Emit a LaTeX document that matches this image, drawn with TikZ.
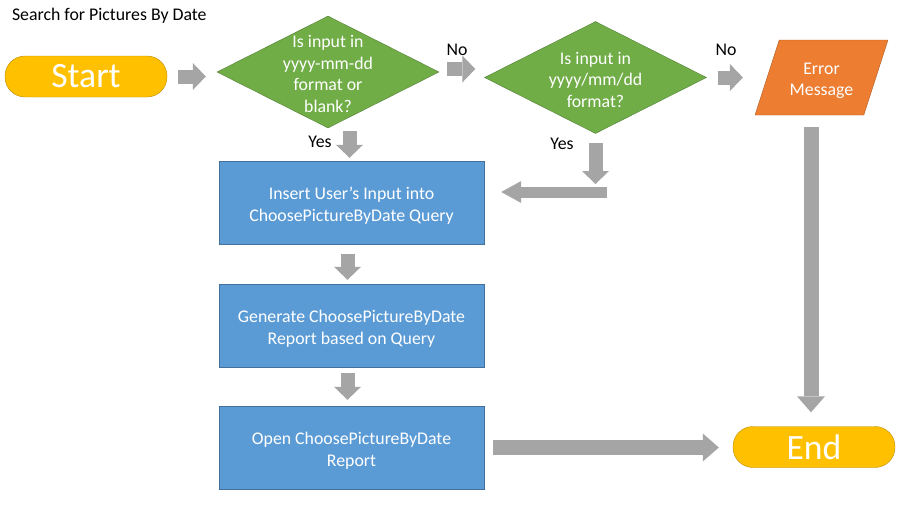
\documentclass[tikz,border=0pt]{standalone}
\usepackage{fontspec}
\setmainfont{Carlito}
\usepackage{xcolor}
\usetikzlibrary{arrows.meta,positioning,shapes.geometric}

\definecolor{termfill}{HTML}{FFC000}
\definecolor{termline}{HTML}{BC8C00}
\definecolor{decfill}{HTML}{70AD47}
\definecolor{decline}{HTML}{507E32}
\definecolor{procfill}{HTML}{5B9BD5}
\definecolor{procline}{HTML}{41719C}
\definecolor{errfill}{HTML}{ED7D31}
\definecolor{errline}{HTML}{AE5A21}
\definecolor{flowgray}{HTML}{A5A5A5}

% extra room above the first line, to sit the text a little lower
\newcommand{\padtop}{\rule{0pt}{18.5pt}}

\begin{document}
\begin{tikzpicture}[
  x=1pt, y=-1pt,
  font=\fontsize{17.8}{21.5}\selectfont,
  term/.style={draw=termline, fill=termfill, text=white, rounded corners=20pt,
               minimum width=162pt, minimum height=41pt,
               font=\fontsize{35.6}{40}\selectfont},
  decision/.style={diamond, draw=decline, fill=decfill, inner sep=0pt,
               minimum width=222pt, minimum height=112pt},
  dtext/.style={text=white, align=center, yshift=-2pt},
  proc/.style={draw=procline, fill=procfill, text=white, align=center,
               minimum width=265pt, minimum height=83pt,
               font=\fontsize{17.8}{22}\selectfont},
  iobox/.style={trapezium, trapezium left angle=68, trapezium right angle=112,
               trapezium stretches=true, draw=errline, fill=errfill, text=white,
               align=center, minimum width=133pt, minimum height=75pt},
  blk/.style={draw=flowgray, line width=14pt,
              -{Triangle[length=13pt, width=27pt, line width=0pt]}},
  blkwide/.style={draw=flowgray, line width=15pt,
              -{Triangle[length=16pt, width=28pt, line width=0pt]}},
  lbl/.style={font=\fontsize{17.8}{20}\selectfont}
]
\useasboundingbox (0,0) rectangle (908,507);
\fill[white] (0,0) rectangle (908,507);

\node[anchor=west] (title) at (8.5,16) {Search for Pictures By Date};

\node[term] (start) at (86,76.5) {Start};
\node[decision, label={[dtext]center:{Is input in\\yyyy-mm-dd\\format or\\blank?}}] (isdash) at (328,72) {};
\node[decision, label={[dtext]center:{Is input in\\yyyy/mm/dd\\format?}}] (isslash) at (595.5,77.5) {};
\node[iobox] (err) at (821.5,77.5) {\padtop Error\\Message};

\node[proc] (insert) at (351.5,202.5) {\padtop Insert User’s Input into\\ChoosePictureByDate Query};
\node[proc] (report) at (351.5,325.5) {\padtop Generate ChoosePictureByDate\\Report based on Query};
\node[proc] (open) at (351.5,447.5) {\padtop Open ChoosePictureByDate\\Report};
\node[term] (end) at (814,447) {End};

\node[lbl] (no1) at (457,50) {No};
\node[lbl] (no2) at (726,50) {No};
\node[lbl] (yes1) at (320,142) {Yes};
\node[lbl] (yes2) at (562,144) {Yes};

% block arrows
\coordinate (yesdown) at (595.5,184);
\coordinate (yesback) at (607,192);

\draw[blk, shorten <=11pt, shorten >=11pt] (start.east) -- (isdash.west |- start.east);
\draw[blk, shorten <=8pt, shorten >=9pt] ([yshift=3pt]isdash.east) -- ([yshift=3pt]isslash.west |- isdash.east);
\draw[blk, shorten <=11pt, shorten >=24pt] (isslash.east) -- (err.west |- isslash.east);
\draw[blk, shorten <=3pt, shorten >=3pt] ([xshift=-2pt]insert.north |- isdash.south) -- ([xshift=-2pt]insert.north);
\draw[blk, shorten <=9pt] (isslash.south) -- (yesdown);
\draw[draw=flowgray, line width=11pt, -{Triangle[length=20pt, width=22pt, line width=0pt]},
      shorten >=17pt] (yesback) -- (insert.east |- yesback);
\draw[blk, shorten <=10pt, shorten >=4pt] ([xshift=-4pt]insert.south) -- ([xshift=-4pt]report.north);
\draw[blk, shorten <=6pt, shorten >=6pt] ([xshift=-4pt]report.south) -- ([xshift=-4pt]open.north);
\draw[blkwide, shorten <=9pt, shorten >=14pt] (open.east) -- (end.west |- open.east);
\draw[blkwide, shorten <=12pt, shorten >=14pt] ([xshift=-3pt]end.north |- err.south) -- ([xshift=-3pt]end.north);
\end{tikzpicture}
\end{document}
